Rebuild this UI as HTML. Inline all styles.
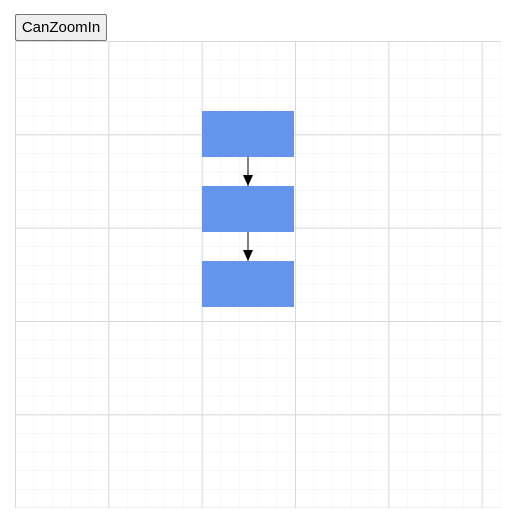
<!DOCTYPE html>
<html><head><meta charset="utf-8"><style>
html,body{margin:0;padding:0;background:#fff;width:506px;height:530px;overflow:hidden;font-family:"Liberation Sans",Arial,sans-serif}
#btn{position:absolute;left:15px;top:14px;width:92px;height:27px;box-sizing:border-box;border:1px solid #767676;border-radius:2px;background:#efefef;font:15px "Liberation Sans",Arial,sans-serif;color:#000;padding:0}
#dg{position:absolute;left:15px;top:41px}
</style></head><body>
<button id="btn">CanZoomIn</button>
<svg id="dg" width="486" height="467">
<defs>
<pattern id="minor" width="18.67" height="18.67" patternUnits="userSpaceOnUse"><path d="M0 0H18.67M0 0V18.67" stroke="#efeff3" stroke-width="1" fill="none"/></pattern>
<pattern id="major" width="93.33" height="93.33" patternUnits="userSpaceOnUse"><path d="M0.5 0.5H93.33M0.5 0.5V93.33" stroke="#d8d8d8" stroke-width="1" fill="none"/></pattern>
<marker id="ah" markerWidth="12" markerHeight="10" refX="11" refY="5" orient="auto" markerUnits="userSpaceOnUse"><path d="M0 0L11 5L0 10Z" fill="#000"/></marker>
</defs>
<rect width="486" height="467" fill="url(#minor)"/>
<rect width="486" height="467" fill="url(#major)"/>
<g id="g"></g>
</svg>
<script>
const nodeX=[187,187,187];
const nodeY=[70,145,220];
const nodeW=92, nodeH=46;
const edges=[[0,1],[1,2]];
const g=document.getElementById('g');
const NS='http://www.w3.org/2000/svg';
nodeX.forEach((x,i)=>{
  const r=document.createElementNS(NS,'rect');
  r.setAttribute('x',x);r.setAttribute('y',nodeY[i]);r.setAttribute('width',nodeW);r.setAttribute('height',nodeH);r.setAttribute('fill','#6495ed');
  
  
  g.appendChild(r);
});
edges.forEach(([a,b],i)=>{
  const l=document.createElementNS(NS,'line');
  const cx=nodeX[a]+nodeW/2;
  l.setAttribute('x1',cx);l.setAttribute('y1',nodeY[a]+nodeH);
  l.setAttribute('x2',nodeX[b]+nodeW/2);l.setAttribute('y2',nodeY[b]);
  l.setAttribute('stroke','#000');l.setAttribute('stroke-width','1');l.setAttribute('marker-end','url(#ah)');
  
  
  g.appendChild(l);
});
</script>
</body></html>
